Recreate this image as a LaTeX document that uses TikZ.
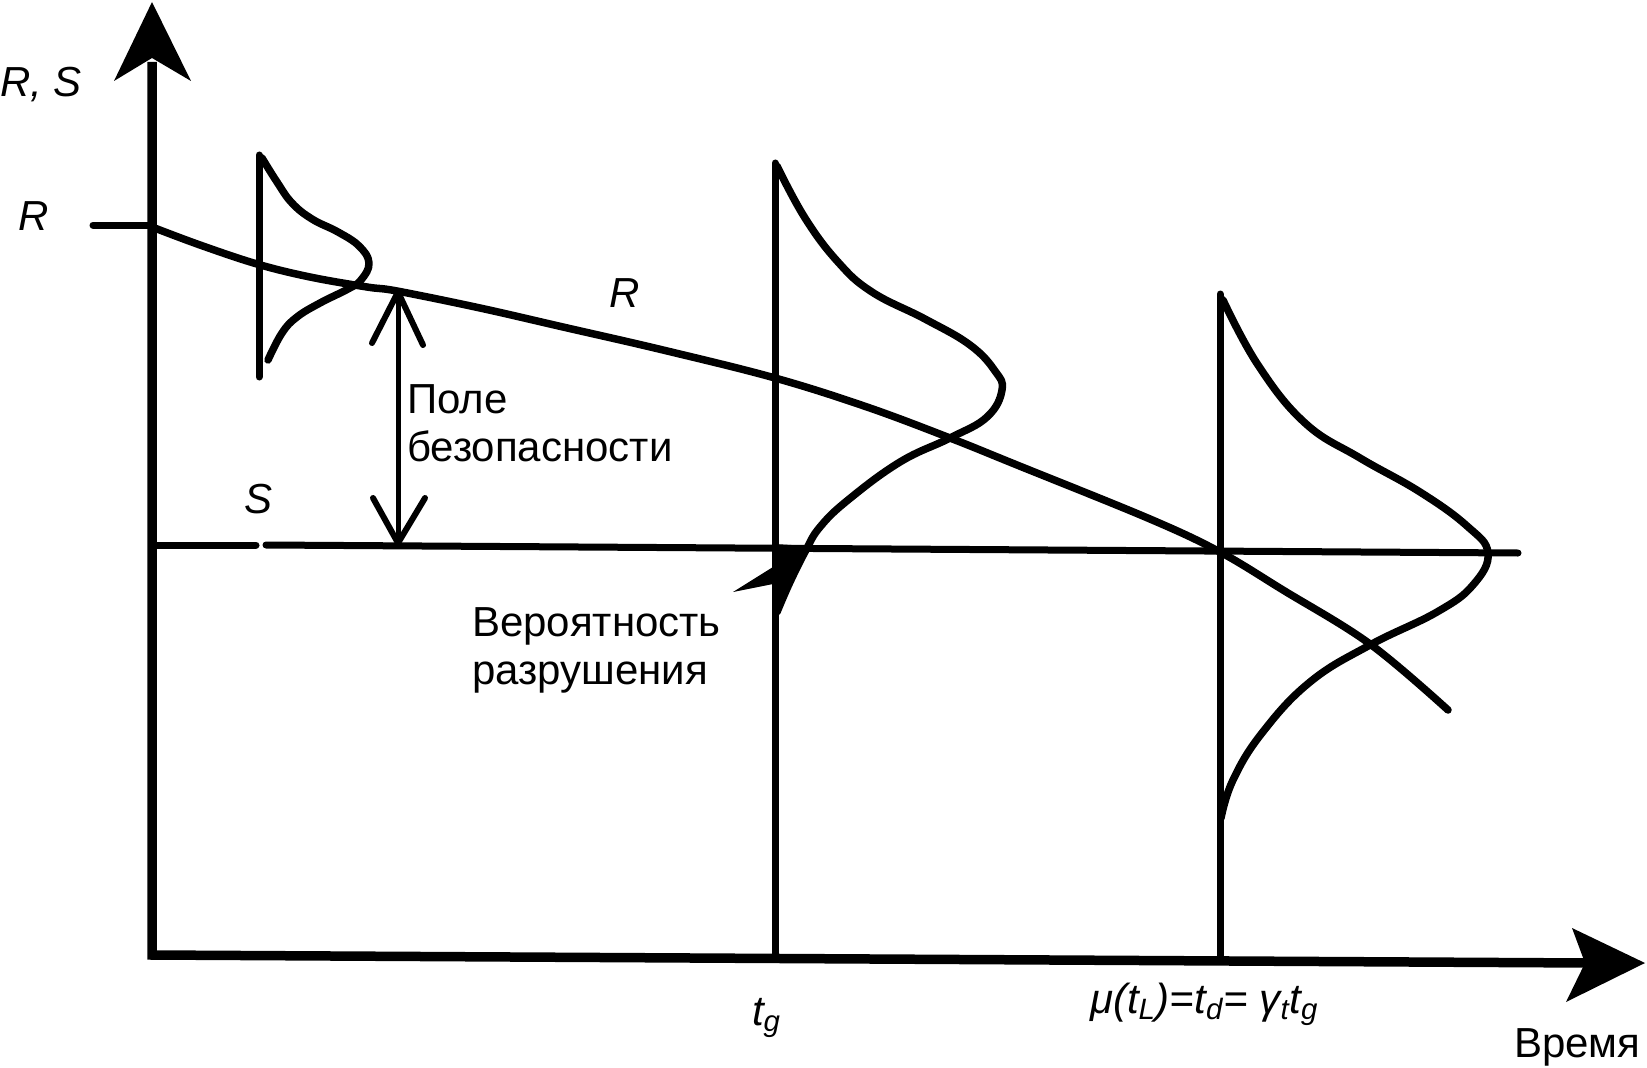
\documentclass[tikz,border=0pt]{standalone}
\usepackage{fontspec}
\setmainfont{Liberation Sans}
\begin{document}
\begin{tikzpicture}[x=0.2mm,y=-0.2mm,
  every node/.style={inner sep=0pt,outer sep=0pt,font=\fontsize{23.9pt}{27.3pt}\selectfont},
  axisline/.style={line width=1.9mm,line join=miter},
  curveline/.style={line width=1.5mm,line cap=round,line join=round},
  vline/.style={line width=1.4mm,line cap=round},
  dimline/.style={line width=1.0mm,line cap=round},
  vhead/.style={line width=1.2mm,line cap=round,line join=round}]
\path[use as bounding box] (0,0) rectangle (1647,1068);

% axes
\draw[axisline] (152,62) -- (152,955) -- (1590,963);
\fill (152,2) -- (191,81) -- (152,58) -- (114,81) -- cycle;
\fill (1645,963) -- (1566,1002) -- (1585,963) -- (1572,928) -- cycle;

% R tick
\draw[vline] (93,225) -- (152,225);

% R curve
\draw[curveline] plot[smooth,tension=0.6] coordinates {(152,227) (200,245) (257,264) (310,277) (367,287) (397,291) (480,308) (563,327) (663,350) (775,378) (867,407) (950,438) (1017,465) (1150,519) (1220,552) (1283,590) (1370,644) (1448,710)};

% S line
\draw[vline] (154,545) -- (256,545);
\draw[vline] (266,545) -- (1518,553);

% distribution 1
\draw[vline] (259,155) -- (259,377);
\draw[curveline] plot[smooth,tension=0.7] coordinates {(262,158) (277,182) (292,203) (312,219) (338,232) (359,246) (369,263) (361,280) (348,289) (320,303) (297,317) (282,333) (268,360)};

% distribution 2 (t_g)
\draw[vline] (775,163) -- (775,958);
\draw[curveline] plot[smooth,tension=0.7] coordinates {(777,166) (805,218) (838,262) (872,292) (925,319) (970,345) (995,371) (1002,390) (987,417) (950,438) (900,462) (848,500) (820,527) (806,550) (790,582) (777,612)};
\fill (775,544) -- (808,546) .. controls (797,570) and (785,590) .. (777,612) -- cycle;
\fill (733,592) -- (773,567) -- (773,584) -- cycle;

% distribution 3
\draw[vline] (1220,294) -- (1220,961);
\draw[curveline] plot[smooth,tension=0.7] coordinates {(1223,300) (1258,365) (1305,423) (1360,458) (1420,492) (1467,526) (1488,553) (1473,585) (1437,612) (1370,645) (1310,682) (1262,733) (1233,780) (1221,818)};

% safety margin arrow
\coordinate (pTop) at (398,292);
\coordinate (pBot) at (398,543);
\draw[dimline] (pTop) -- (pBot);
\draw[vhead] (372,343) -- (pTop) -- (423,345);
\draw[vhead] (373,498) -- (pBot) -- (425,498);

% labels
\node[anchor=base west] (lblRS) at (0,97) {\itshape R, S};
\node[anchor=base west] (lblR0) at (18,230) {\itshape R};
\node[anchor=base west] (lblR) at (609,307) {\itshape R};
\node[anchor=base west] (lblS) at (244,513) {\itshape S};
\node[anchor=north west,align=left] (pole) at (407,385) {Поле\\безопасности};
\node[anchor=north west,align=left] (fail) at (472,608) {Вероятность\\разрушения};
\node[anchor=base west] (time) at (1514,1057) {Время};
\node[anchor=base west] (tg) at (752,1025) {\itshape t\textsubscript{g}};
\node[anchor=base west] (mu) at (1090,1013) {\itshape μ(t\textsubscript{L})=t\textsubscript{d}= γ\textsubscript{t}t\textsubscript{g}};
\end{tikzpicture}
\end{document}
